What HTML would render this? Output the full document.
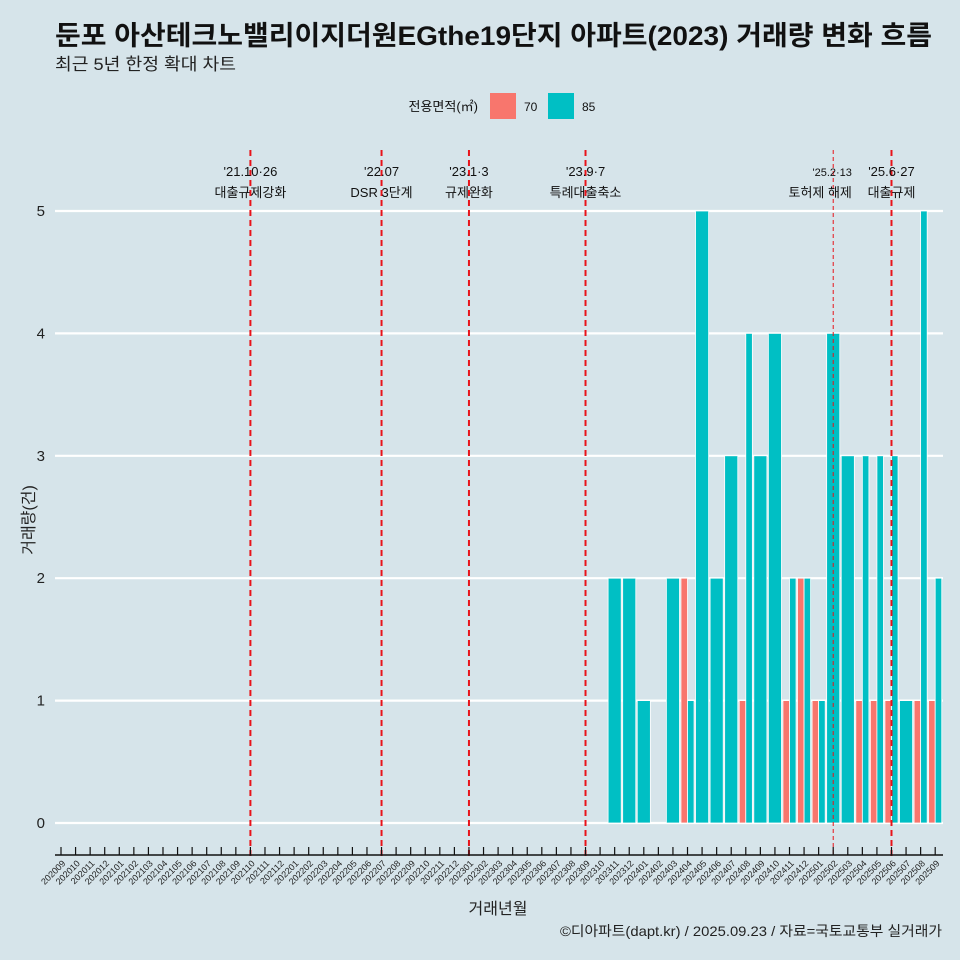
<!DOCTYPE html>
<html><head><meta charset="utf-8">
<style>
body{margin:0;background:#d6e4ea;}
svg{display:block;font-family:"Liberation Sans","Noto Sans CJK KR",sans-serif;}
</style></head>
<body>
<svg id="c" width="960" height="960" viewBox="0 0 960 960">
<rect width="960" height="960" fill="#d6e4ea"/>
<text x="55" y="45" font-size="27" font-weight="bold" fill="#111" textLength="877" lengthAdjust="spacingAndGlyphs">둔포 아산테크노밸리이지더원EGthe19단지 아파트(2023) 거래량 변화 흐름</text>
<text x="55" y="70" font-size="17" fill="#222" textLength="181" lengthAdjust="spacingAndGlyphs">최근 5년 한정 확대 차트</text>
<g>
<text x="478" y="111" font-size="13" text-anchor="end" fill="#111">전용면적(㎡)</text>
<rect x="490" y="93" width="26" height="26" fill="#f8766d"/>
<text x="524" y="111" font-size="12" fill="#111">70</text>
<rect x="548" y="93" width="26" height="26" fill="#00bfc4"/>
<text x="582" y="111" font-size="12" fill="#111">85</text>
</g>
<g id="grid"></g><g id="bars"></g><g id="events"></g><g id="xaxis"></g>
<text x="498" y="914" font-size="16" text-anchor="middle" fill="#222">거래년월</text>
<text transform="translate(34,520) rotate(-90)" font-size="16" text-anchor="middle" fill="#222">거래량(건)</text>
<text x="942" y="936" font-size="14" text-anchor="end" fill="#222" textLength="382" lengthAdjust="spacingAndGlyphs">©디아파트(dapt.kr) / 2025.09.23 / 자료=국토교통부 실거래가</text>
</svg>
<script>
const months=[];for(let y=2020,m=9;y*100+m<=202509;){months.push(''+y+(m<10?'0':'')+m);m++;if(m>12){m=1;y++;}}
const months70=['202404','202408','202411','202412','202501','202504','202505','202506','202508','202509'];
const values70=[2,1,1,2,1,1,1,1,1,1];
const months85=['202311','202312','202401','202403','202404','202405','202406','202407','202408','202409','202410','202411','202412','202501','202502','202503','202504','202505','202506','202507','202508','202509'];
const values85=[2,2,1,2,1,5,2,3,4,3,4,2,2,1,4,3,3,3,3,1,5,2];
const yTicks=[0,1,2,3,4,5];
const eventMonths=['202110','202207','202301','202309','202502','202506'];
const eventLine1=["'21.10·26","'22.07","'23.1·3","'23.9·7","'25.2·13","'25.6·27"];
const eventLine2=['대출규제강화','DSR 3단계','규제완화','특례대출축소','토허제 해제','대출규제'];
const NS='http://www.w3.org/2000/svg';
const step=14.57,x0=61;
const X=m=>x0+months.indexOf(m)*step;
const Y=v=>823-v*122.4;
function el(t,a,p){const e=document.createElementNS(NS,t);for(const k in a)e.setAttribute(k,a[k]);document.getElementById(p).appendChild(e);return e;}
yTicks.forEach(v=>{
 const l=el('line',{x1:55,x2:943,y1:Y(v),y2:Y(v),stroke:'#fff','stroke-width':2.2},'grid');
 
 
 const t=el('text',{x:45,y:Y(v)+5,'font-size':15,'text-anchor':'end',fill:'#222'},'grid');t.textContent=v;
 
 
});
const bw=13.1;
months.forEach(m=>{
 const i70=months70.indexOf(m),i85=months85.indexOf(m);
 const c=X(m);
 const both=i70>=0&&i85>=0;
 if(i70>=0){const v=values70[i70];const x=c-bw/2,w=both?bw/2:bw;
  const r=el('rect',{x:x,y:Y(v),width:w,height:Y(0)-Y(v),fill:'#f8766d',stroke:'#fff','stroke-width':0.8},'bars');
  
  }
 if(i85>=0){const v=values85[i85];const x=both?c:c-bw/2,w=both?bw/2:bw;
  const r=el('rect',{x:x,y:Y(v),width:w,height:Y(0)-Y(v),fill:'#00bfc4',stroke:'#fff','stroke-width':0.8},'bars');
  
  }
});
eventMonths.forEach((m,i)=>{
 const x=X(m);const thin=m==='202502';
 const l=el('line',{x1:x,x2:x,y1:150,y2:857,stroke:'#e8131a','stroke-width':thin?1:2,'stroke-dasharray':thin?'4,3':'6,4'},'events');
 
 
 const t1=el('text',{x:x+(thin?-1:0),y:176,'font-size':thin?11:13,'text-anchor':'middle',fill:'#111'},'events');t1.textContent=eventLine1[i];
 
 
 const t2=el('text',{x:x+(thin?-13:0),y:197,'font-size':13,'text-anchor':'middle',fill:'#111'},'events');t2.textContent=eventLine2[i];
 
 
});
const ax=el('line',{x1:55,x2:943,y1:855,y2:855,stroke:'#111','stroke-width':1.5},'xaxis');


months.forEach(m=>{
 const x=X(m);
 const t=el('line',{x1:x,x2:x,y1:847,y2:855,stroke:'#111','stroke-width':1.2},'xaxis');
 
 
 const l=el('text',{transform:`translate(${x+5},864) rotate(-45)`,'font-size':9,'text-anchor':'end',fill:'#222'},'xaxis');l.textContent=m;
 
 
});
</script>
</body></html>
